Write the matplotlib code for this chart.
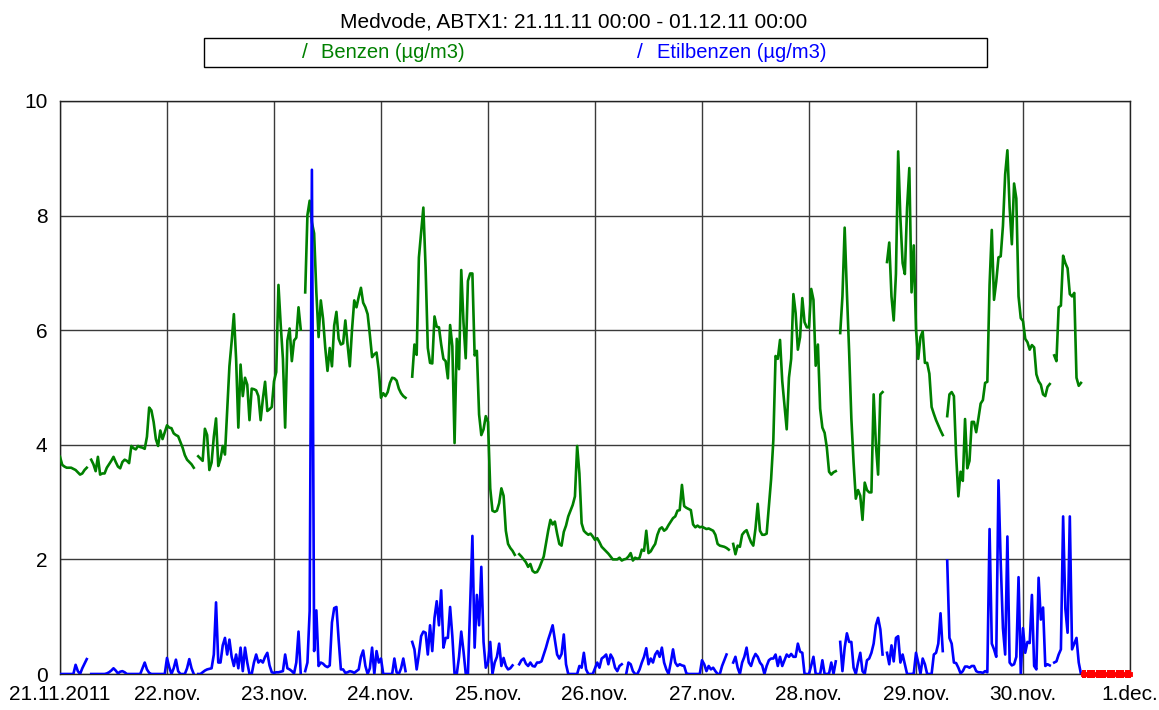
import numpy as np
import matplotlib
matplotlib.use("Agg")
import matplotlib.pyplot as plt
from matplotlib.patches import Rectangle

plt.rcParams['font.family'] = ['Liberation Sans', 'DejaVu Sans']

NaN = float('nan')

title = "Medvode, ABTX1: 21.11.11 00:00 - 01.12.11 00:00"
series_names = ["Benzen (µg/m3)", "Etilbenzen (µg/m3)"]
day_labels = ['21.11.2011', '22.nov.', '23.nov.', '24.nov.', '25.nov.', '26.nov.',
              '27.nov.', '28.nov.', '29.nov.', '30.nov.', '1.dec.']
y_ticks = [0, 2, 4, 6, 8, 10]

# (hours since 21.11.2011 00:00, value); NaN marks missing data
benzen_points = [
    (0, 3.79), (0.5, 3.65), (1, 3.62), (1.5, 3.6), (2, 3.6), (2.5, 3.6), (3, 3.58), (3.5, 3.56),
    (4, 3.52), (4.5, 3.48), (5, 3.5), (5.5, 3.56), (6, 3.6), (6.5, NaN),
    (7, 3.74), (7.5, 3.66), (8, 3.54), (8.5, 3.79), (9, 3.48), (9.5, 3.5), (10, 3.5), (10.5, 3.6),
    (11, 3.66), (11.5, 3.72), (12, 3.79), (12.5, 3.7), (13, 3.62), (13.5, 3.59), (14, 3.7),
    (14.5, 3.74), (15, 3.72), (15.5, 3.68), (16, 3.98), (16.5, 3.94), (17, 3.92), (17.5, 3.98),
    (18, 3.96), (18.5, 3.95), (19, 3.93), (19.5, 4.14), (20, 4.65), (20.5, 4.6), (21, 4.4),
    (21.5, 4.1), (22, 3.98), (22.5, 4.25), (23, 4.1), (23.5, 4.22), (24, 4.34), (24.5, 4.3),
    (25, 4.29), (25.5, 4.2), (26, 4.17), (26.5, 4.15), (27, 4.05), (27.5, 3.95), (28, 3.82),
    (28.5, 3.74), (29, 3.7), (29.5, 3.66), (30, 3.6), (30.5, NaN),
    (31, 3.8), (31.5, 3.76), (32, 3.72), (32.5, 4.28), (33, 4.17), (33.5, 3.56), (34, 3.69),
    (34.5, 4.14), (35, 4.46), (35.5, 3.63), (36, 3.75), (36.5, 3.98), (37, 3.83), (37.5, 4.6),
    (38, 5.37), (38.5, 5.8), (39, 6.28), (39.5, 5.5), (40, 4.3), (40.5, 5.4), (41, 4.85),
    (41.5, 5.17), (42, 5.05), (42.5, 4.43), (43, 4.98), (43.5, 4.97), (44, 4.95), (44.5, 4.85),
    (45, 4.43), (45.5, 4.8), (46, 5.1), (46.5, 4.59), (47, 4.62), (47.5, 4.66), (48, 5.11),
    (48.5, 5.27), (49, 6.79), (49.5, 6.1), (50, 5.5), (50.5, 4.3), (51, 5.82), (51.5, 6.03),
    (52, 5.46), (52.5, 5.82), (53, 5.87), (53.5, 6.4), (54, 6.01), (54.5, NaN),
    (55, 6.66), (55.5, 8.01), (56, 8.26), (56.5, 7.88), (57, 7.69), (57.5, 6.66), (58, 5.88),
    (58.5, 6.52), (59, 6.2), (59.5, 5.69), (60, 5.29), (60.5, 5.69), (61, 5.37), (61.5, 6.08),
    (62, 6.32), (62.5, 5.85), (63, 5.75), (63.5, 5.77), (64, 6.17), (64.5, 5.75), (65, 5.37),
    (65.5, 6.01), (66, 6.52), (66.5, 6.4), (67, 6.58), (67.5, 6.74), (68, 6.48), (68.5, 6.4),
    (69, 6.28), (69.5, 5.92), (70, 5.53), (70.5, 5.58), (71, 5.61), (71.5, 5.3), (72, 4.82),
    (72.5, 4.9), (73, 4.85), (73.5, 4.92), (74, 5.08), (74.5, 5.17), (75, 5.16), (75.5, 5.12),
    (76, 4.98), (76.5, 4.9), (77, 4.85), (77.5, 4.82), (78, NaN),
    (79, 5.19), (79.5, 5.75), (80, 5.57), (80.5, 7.27), (81, 7.7), (81.5, 8.14), (82, 7.1),
    (82.5, 5.69), (83, 5.43), (83.5, 5.42), (84, 6.24), (84.5, 6.06), (85, 6.05), (85.5, 5.75),
    (86, 5.5), (86.5, 5.46), (87, 5.16), (87.5, 6.09), (88, 5.72), (88.5, 4.03), (89, 5.85),
    (89.5, 5.32), (90, 7.05), (90.5, 6.14), (91, 5.51), (91.5, 6.86), (92, 6.99), (92.5, 6.99),
    (93, 5.56), (93.5, 5.64), (94, 4.53), (94.5, 4.17), (95, 4.27), (95.5, 4.5), (96, 4.4),
    (96.5, 3.24), (97, 2.85), (97.5, 2.83), (98, 2.85), (98.5, 2.98), (99, 3.24), (99.5, 3.11),
    (100, 2.5), (100.5, 2.27), (101, 2.2), (101.5, 2.15), (102, 2.08), (102.5, NaN),
    (103, 2.09), (103.5, 2.05), (104, 2.0), (104.5, 1.95), (105, 1.87), (105.5, 1.92), (106, 1.8),
    (106.5, 1.77), (107, 1.78), (107.5, 1.85), (108, 1.95), (108.5, 2.05), (109, 2.27),
    (109.5, 2.5), (110, 2.69), (110.5, 2.61), (111, 2.66), (111.5, 2.45), (112, 2.27),
    (112.5, 2.24), (113, 2.48), (113.5, 2.59), (114, 2.75), (114.5, 2.85), (115, 2.95),
    (115.5, 3.1), (116, 3.98), (116.5, 3.5), (117, 2.63), (117.5, 2.5), (118, 2.46), (118.5, 2.43),
    (119, 2.45), (119.5, 2.4), (120, 2.34), (120.5, 2.37), (121, 2.3), (121.5, 2.22), (122, 2.18),
    (122.5, 2.14), (123, 2.1), (123.5, 2.05), (124, 2.0), (124.5, 2.0), (125, 2.0), (125.5, 2.03),
    (126, 1.98), (126.5, 2.0), (127, 2.01), (127.5, 2.05), (128, 2.11), (128.5, 1.98),
    (129, 2.03), (129.5, 2.01), (130, 2.03), (130.5, 2.17), (131, 2.15), (131.5, 2.5),
    (132, 2.11), (132.5, 2.14), (133, 2.21), (133.5, 2.27), (134, 2.43), (134.5, 2.53),
    (135, 2.56), (135.5, 2.5), (136, 2.53), (136.5, 2.6), (137, 2.66), (137.5, 2.72), (138, 2.75),
    (138.5, 2.85), (139, 2.86), (139.5, 3.3), (140, 2.93), (140.5, 2.9), (141, 2.88),
    (141.5, 2.86), (142, 2.61), (142.5, 2.56), (143, 2.59), (143.5, 2.56), (144, 2.57),
    (144.5, 2.55), (145, 2.53), (145.5, 2.54), (146, 2.52), (146.5, 2.5), (147, 2.43),
    (147.5, 2.27), (148, 2.24), (148.5, 2.23), (149, 2.22), (149.5, 2.2), (150, 2.17), (150.5, NaN),
    (151, 2.27), (151.5, 2.09), (152, 2.24), (152.5, 2.22), (153, 2.43), (153.5, 2.48),
    (154, 2.51), (154.5, 2.4), (155, 2.3), (155.5, 2.24), (156, 2.54), (156.5, 2.97), (157, 2.5),
    (157.5, 2.43), (158, 2.43), (158.5, 2.45), (159, 2.92), (159.5, 3.4), (160, 4.08),
    (160.5, 5.55), (161, 5.5), (161.5, 5.83), (162, 5.11), (162.5, 4.7), (163, 4.27),
    (163.5, 5.17), (164, 5.5), (164.5, 6.63), (165, 6.3), (165.5, 5.66), (166, 5.88),
    (166.5, 6.56), (167, 6.14), (167.5, 6.05), (168, 6.05), (168.5, 6.72), (169, 6.53),
    (169.5, 5.38), (170, 5.75), (170.5, 4.63), (171, 4.3), (171.5, 4.21), (172, 3.95),
    (172.5, 3.53), (173, 3.48), (173.5, 3.52), (174, 3.54), (174.5, NaN),
    (175, 5.95), (175.5, 6.59), (176, 7.79), (176.5, 6.66), (177, 5.63), (177.5, 4.46),
    (178, 3.69), (178.5, 3.06), (179, 3.21), (179.5, 3.11), (180, 2.69), (180.5, 3.34),
    (181, 3.21), (181.5, 3.17), (182, 3.17), (182.5, 4.88), (183, 4.01), (183.5, 3.48),
    (184, 4.88), (184.5, 4.92), (185, NaN),
    (185.5, 7.19), (186, 7.53), (186.5, 6.59), (187, 6.17), (187.5, 6.98), (188, 9.12),
    (188.5, 7.95), (189, 7.17), (189.5, 6.98), (190, 8.14), (190.5, 8.83), (191, 6.66),
    (191.5, 7.48), (192, 6.01), (192.5, 5.5), (193, 5.88), (193.5, 5.98), (194, 5.43),
    (194.5, 5.43), (195, 5.24), (195.5, 4.66), (196, 4.54), (196.5, 4.43), (197, 4.34),
    (197.5, 4.25), (198, 4.17), (198.5, NaN),
    (199, 4.5), (199.5, 4.88), (200, 4.92), (200.5, 4.85), (201, 3.82), (201.5, 3.1), (202, 3.53),
    (202.5, 3.37), (203, 4.45), (203.5, 3.59), (204, 3.72), (204.5, 4.4), (205, 4.4),
    (205.5, 4.22), (206, 4.46), (206.5, 4.72), (207, 4.78), (207.5, 5.08), (208, 5.1),
    (208.5, 6.79), (209, 7.75), (209.5, 6.53), (210, 6.85), (210.5, 7.27), (211, 7.29),
    (211.5, 7.82), (212, 8.72), (212.5, 9.14), (213, 8.14), (213.5, 7.5), (214, 8.56),
    (214.5, 8.3), (215, 6.59), (215.5, 6.21), (216, 6.16), (216.5, 5.85), (217, 5.79),
    (217.5, 5.66), (218, 5.74), (218.5, 5.7), (219, 5.23), (219.5, 5.11), (220, 5.05),
    (220.5, 4.88), (221, 4.85), (221.5, 5.01), (222, 5.06), (222.5, NaN),
    (223, 5.56), (223.5, 5.46), (224, 6.4), (224.5, 6.43), (225, 7.3), (225.5, 7.17), (226, 7.08),
    (226.5, 6.63), (227, 6.59), (227.5, 6.65), (228, 5.17), (228.5, 5.03), (229, 5.08),
]

etilbenzen_points = [
    (0, 0), (0.5, 0), (1, 0), (1.5, 0), (2, 0), (2.5, 0), (3, 0), (3.5, 0.16), (4, 0.05), (4.5, 0),
    (5, 0.1), (5.5, 0.18), (6, 0.26), (6.5, NaN),
    (7, 0), (7.5, 0), (8, 0), (8.5, 0), (9, 0), (9.5, 0), (10, 0), (10.5, 0.01), (11, 0.03),
    (11.5, 0.06), (12, 0.1), (12.5, 0.06), (13, 0.01), (13.5, 0.04), (14, 0.05), (14.5, 0.03),
    (15, 0), (15.5, 0), (16, 0), (16.5, 0), (17, 0), (17.5, 0), (18, 0), (18.5, 0.1), (19, 0.2),
    (19.5, 0.08), (20, 0.02), (20.5, 0), (21, 0), (21.5, 0), (22, 0), (22.5, 0), (23, 0), (23.5, 0),
    (24, 0.28), (24.5, 0.12), (25, 0), (25.5, 0.1), (26, 0.25), (26.5, 0.05), (27, 0), (27.5, 0),
    (28, 0), (28.5, 0.1), (29, 0.26), (29.5, 0.1), (30, 0), (30.5, NaN),
    (31, 0), (31.5, 0), (32, 0.03), (32.5, 0.06), (33, 0.08), (33.5, 0.09), (34, 0.1),
    (34.5, 0.34), (35, 1.25), (35.5, 0.2), (36, 0.2), (36.5, 0.5), (37, 0.63), (37.5, 0.34),
    (38, 0.6), (38.5, 0.3), (39, 0.14), (39.5, 0.34), (40, 0.1), (40.5, 0.46), (41, 0.05),
    (41.5, 0.46), (42, 0.2), (42.5, 0), (43, 0), (43.5, 0.2), (44, 0.34), (44.5, 0.2), (45, 0.24),
    (45.5, 0.2), (46, 0.3), (46.5, 0.37), (47, 0.15), (47.5, 0.03), (48, 0.02), (48.5, 0.03),
    (49, 0.03), (49.5, 0.04), (50, 0.05), (50.5, 0.34), (51, 0.1), (51.5, 0.08), (52, 0.05),
    (52.5, 0.01), (53, 0.2), (53.5, 0.74), (54, 0), (54.5, NaN),
    (55, 0.05), (55.5, 0.2), (56, 1.1), (56.5, 8.8), (57, 0.4), (57.5, 1.11), (58, 0.14),
    (58.5, 0.2), (59, 0.18), (59.5, 0.14), (60, 0.12), (60.5, 0.15), (61, 0.9), (61.5, 1.15),
    (62, 1.17), (62.5, 0.6), (63, 0.08), (63.5, 0.08), (64, 0.02), (64.5, 0.03), (65, 0.05),
    (65.5, 0.04), (66, 0.02), (66.5, 0.05), (67, 0.08), (67.5, 0.3), (68, 0.41), (68.5, 0.14),
    (69, 0), (69.5, 0.1), (70, 0.46), (70.5, 0), (71, 0.4), (71.5, 0.2), (72, 0.27), (72.5, 0),
    (73, 0), (73.5, 0), (74, 0), (74.5, 0), (75, 0.27), (75.5, 0.03), (76, 0), (76.5, 0.1),
    (77, 0.27), (77.5, 0.05), (78, NaN),
    (79, 0.56), (79.5, 0.43), (80, 0.08), (80.5, 0.34), (81, 0.66), (81.5, 0.74), (82, 0.72),
    (82.5, 0.34), (83, 0.85), (83.5, 0.4), (84, 0.98), (84.5, 1.27), (85, 0.85), (85.5, 1.46),
    (86, 0.46), (86.5, 0.63), (87, 0.63), (87.5, 1.17), (88, 0.66), (88.5, 0), (89, 0), (89.5, 0.3),
    (90, 0.74), (90.5, 0.4), (91, 0.01), (91.5, 0), (92, 1.2), (92.5, 2.41), (93, 0.46),
    (93.5, 1.38), (94, 0.85), (94.5, 1.87), (95, 0.56), (95.5, 0.11), (96, 0.2), (96.5, 0.56),
    (97, 0), (97.5, 0.2), (98, 0.3), (98.5, 0.53), (99, 0.14), (99.5, 0.28), (100, 0.14),
    (100.5, 0.08), (101, 0.1), (101.5, 0.15), (102, NaN),
    (103, 0.17), (103.5, 0.24), (104, 0.27), (104.5, 0.18), (105, 0.14), (105.5, 0.2),
    (106, 0.14), (106.5, 0.13), (107, 0.2), (107.5, 0.2), (108, 0.22), (108.5, 0.34), (109, 0.46),
    (109.5, 0.6), (110, 0.72), (110.5, 0.85), (111, 0.6), (111.5, 0.34), (112, 0.27),
    (112.5, 0.35), (113, 0.69), (113.5, 0.17), (114, 0), (114.5, 0), (115, 0), (115.5, 0), (116, 0),
    (116.5, 0.14), (117, 0.11), (117.5, 0.37), (118, 0.08), (118.5, 0), (119, 0), (119.5, 0),
    (120, 0.1), (120.5, 0.2), (121, 0.11), (121.5, 0.27), (122, 0.3), (122.5, 0.34), (123, 0.17),
    (123.5, 0.34), (124, 0.27), (124.5, 0.11), (125, 0.05), (125.5, 0.14), (126, 0.17),
    (126.5, NaN),
    (127, 0), (127.5, 0.2), (128, 0.17), (128.5, 0.05), (129, 0), (129.5, 0), (130, 0.08),
    (130.5, 0.2), (131, 0.3), (131.5, 0.45), (132, 0.17), (132.5, 0.27), (133, 0.2), (133.5, 0.34),
    (134, 0.4), (134.5, 0.3), (135, 0.46), (135.5, 0.2), (136, 0.08), (136.5, 0), (137, 0.2),
    (137.5, 0.43), (138, 0.2), (138.5, 0.14), (139, 0.17), (139.5, 0.15), (140, 0.14),
    (140.5, 0.01), (141, 0), (141.5, 0), (142, 0), (142.5, 0), (143, 0), (143.5, 0), (144, 0.24),
    (144.5, 0.17), (145, 0.05), (145.5, 0.14), (146, 0.08), (146.5, 0.11), (147, 0.05),
    (147.5, 0), (148, 0), (148.5, 0.14), (149, 0.24), (149.5, 0.34), (150, NaN),
    (151, 0.2), (151.5, 0.3), (152, 0.11), (152.5, 0), (153, 0.2), (153.5, 0.3), (154, 0.46),
    (154.5, 0.2), (155, 0.14), (155.5, 0.27), (156, 0.35), (156.5, 0.3), (157, 0.2),
    (157.5, 0.15), (158, 0), (158.5, 0.14), (159, 0.24), (159.5, 0.27), (160, 0.27),
    (160.5, 0.34), (161, 0.14), (161.5, 0.3), (162, 0.14), (162.5, 0.24), (163, 0.34),
    (163.5, 0.3), (164, 0.35), (164.5, 0.3), (165, 0.3), (165.5, 0.53), (166, 0.39), (166.5, 0.37),
    (167, 0), (167.5, 0), (168, 0), (168.5, 0.15), (169, 0.3), (169.5, 0), (170, 0), (170.5, 0),
    (171, 0.24), (171.5, 0), (172, 0), (172.5, 0.01), (173, 0.2), (173.5, 0), (174, 0.22),
    (174.5, NaN),
    (175, 0.56), (175.5, 0.05), (176, 0.46), (176.5, 0.71), (177, 0.56), (177.5, 0.56),
    (178, 0.11), (178.5, 0), (179, 0.2), (179.5, 0.37), (180, 0.05), (180.5, 0), (181, 0.24),
    (181.5, 0.27), (182, 0.37), (182.5, 0.53), (183, 0.85), (183.5, 0.98), (184, 0.78),
    (184.5, 0.34), (185, NaN),
    (185.5, 0.37), (186, 0.17), (186.5, 0.5), (187, 0.22), (187.5, 0.63), (188, 0.66),
    (188.5, 0.2), (189, 0.34), (189.5, 0.17), (190, 0), (190.5, 0), (191, 0), (191.5, 0.01),
    (192, 0.37), (192.5, 0.2), (193, 0), (193.5, 0.27), (194, 0.17), (194.5, 0), (195, 0),
    (195.5, 0), (196, 0.34), (196.5, 0.37), (197, 0.53), (197.5, 1.06), (198, 0.4), (198.5, NaN),
    (199, 1.98), (199.5, 0.63), (200, 0.53), (200.5, 0.2), (201, 0.19), (201.5, 0.11),
    (202, 0.01), (202.5, 0.05), (203, 0.13), (203.5, 0.13), (204, 0.11), (204.5, 0.14),
    (205, 0.14), (205.5, 0.05), (206, 0.03), (206.5, 0.03), (207, 0.02), (207.5, 0.05),
    (208, 0.03), (208.5, 2.53), (209, 0.53), (209.5, 0.43), (210, 0.3), (210.5, 3.38),
    (211, 1.95), (211.5, 0.8), (212, 0.34), (212.5, 2.4), (213, 0.2), (213.5, 0.15), (214, 0.17),
    (214.5, 0.3), (215, 1.69), (215.5, 0), (216, 0.8), (216.5, 0.37), (217, 0.56), (217.5, 0.54),
    (218, 1.38), (218.5, 0.14), (219, 0.08), (219.5, 1.68), (220, 0.95), (220.5, 1.16),
    (221, 0.14), (221.5, 0.17), (222, 0.15), (222.5, NaN),
    (223, 0.2), (223.5, 0.22), (224, 0.34), (224.5, 0.43), (225, 2.75), (225.5, 1.14),
    (226, 0.72), (226.5, 2.75), (227, 0.43), (227.5, 0.53), (228, 0.63), (228.5, 0.2), (229, 0),
]

# period with no data (hours), shown as red marks on the baseline
missing_start = 229.5
missing_end = 240.0

benzen_h = np.array([p[0] for p in benzen_points])
benzen_v = np.array([p[1] for p in benzen_points])
etil_h = np.array([p[0] for p in etilbenzen_points])
etil_v = np.array([p[1] for p in etilbenzen_points])

W, H = 1159, 710
fig = plt.figure(figsize=(W / 100, H / 100), dpi=100)
ax = fig.add_axes([60 / W, 1 - 674 / H, (1130 - 60) / W, (674 - 101) / H])

green = '#008000'
blue = '#0000ff'

ax.plot(benzen_h, benzen_v, color=green, lw=1.9, zorder=3)
ax.plot(etil_h, etil_v, color=blue, lw=1.9, zorder=4)

miss_h = np.arange(missing_start, missing_end + 0.01, 0.5)
ax.plot(miss_h, np.zeros_like(miss_h), color='red', lw=3.5, marker='|', ms=6, mew=1.5,
        zorder=5, clip_on=False)

ax.set_xlim(0, 240)
ax.set_ylim(0, 10)
ax.set_xticks(np.arange(0, 241, 24))
ax.set_xticklabels(day_labels)
ax.set_yticks(y_ticks)
ax.set_yticklabels([str(t) for t in y_ticks])
ax.tick_params(axis='both', length=0, labelsize=15)
ax.tick_params(axis='x', pad=8)
ax.tick_params(axis='y', pad=9)
ax.grid(True, color='#3a3a3a', lw=1.0)
ax.set_axisbelow(True)
for s in ax.spines.values():
    s.set_color('#222222')
    s.set_linewidth(1.0)

fig.text(574 / W, 1 - 22 / H, title, ha='center', va='center', fontsize=15)

# legend box
fig.patches.append(Rectangle((204 / W, 1 - 67 / H), (987 - 204) / W, (67 - 38) / H,
                             transform=fig.transFigure, fill=False, edgecolor='black', lw=1.0))
ly = 1 - 53 / H
fig.text(305 / W, ly, '/', color=green, ha='center', va='center', fontsize=15)
fig.text(321 / W, ly, series_names[0], color=green, ha='left', va='center', fontsize=14.5)
fig.text(640 / W, ly, '/', color=blue, ha='center', va='center', fontsize=15)
fig.text(657 / W, ly, series_names[1], color=blue, ha='left', va='center', fontsize=14.5)

fig.savefig('out.png', dpi=100)
